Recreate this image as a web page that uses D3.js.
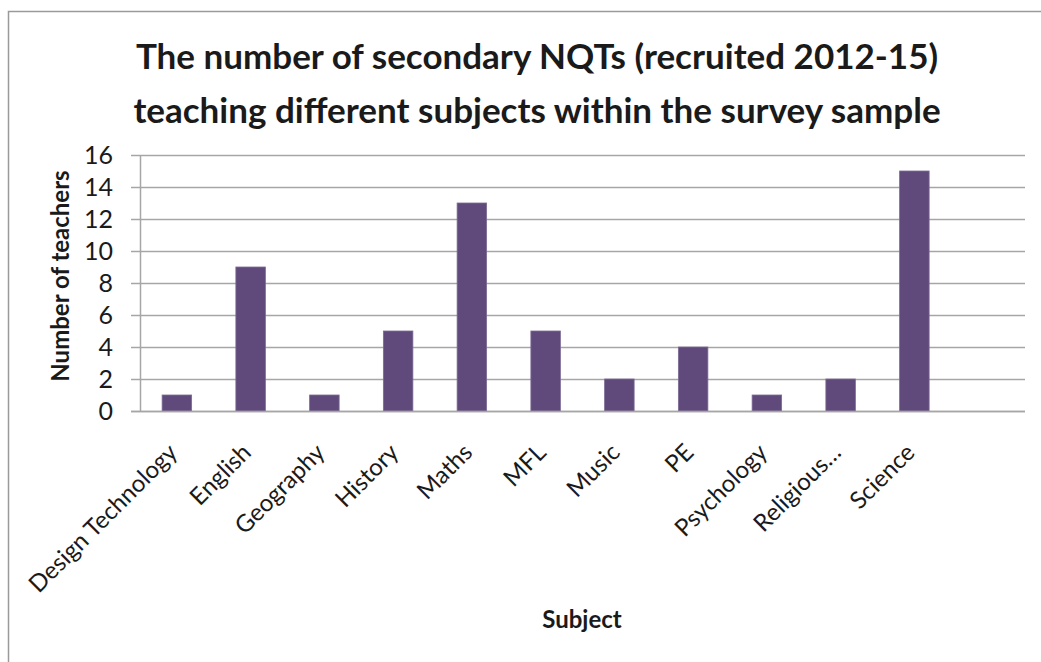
<!DOCTYPE html>
<html>
<head>
<meta charset="utf-8">
<script src="https://cdn.jsdelivr.net/npm/d3@7"></script>
<style>
  html, body { margin: 0; padding: 0; background: #fff; }
  svg { display: block; }
  text { font-family: Lato, "Open Sans", sans-serif; fill: #1a1a1a; }
</style>
</head>
<body>
<svg id="chart" width="1041" height="662"></svg>
<script>
const categories = ["Design Technology", "English", "Geography", "History", "Maths", "MFL", "Music", "PE", "Psychology", "Religious…", "Science", ""];
const values = [1, 9, 1, 5, 13, 5, 2, 4, 1, 2, 15, null];
const yTicks = [0, 2, 4, 6, 8, 10, 12, 14, 16];
const titleLines = ["The number of secondary NQTs (recruited 2012-15)", "teaching different subjects within the survey sample"];
const yTitle = "Number of teachers";
const xTitle = "Subject";

const svg = d3.select("#chart");
const W = 1041, H = 662;
const plot = { left: 140, right: 1025, top: 155, bottom: 411 };

svg.append("rect").attr("x", 8.5).attr("y", 11.5).attr("width", W + 20).attr("height", H + 20)
  .attr("fill", "#fff").attr("stroke", "#9a9a9a").attr("stroke-width", 1.5);

const xb = d3.scaleBand().domain(categories.map((c, i) => i)).range([plot.left, plot.right]);
const y = d3.scaleLinear().domain([0, 16]).range([plot.bottom, plot.top]);

// gridlines
svg.append("g").selectAll("line").data(yTicks).join("line")
  .attr("x1", plot.left - 9).attr("x2", plot.right)
  .attr("y1", d => Math.round(y(d)) + 0.5).attr("y2", d => Math.round(y(d)) + 0.5)
  .attr("stroke", "#a6a6a6").attr("stroke-width", 1.5);

// y axis line
svg.append("line").attr("x1", plot.left + 0.5).attr("x2", plot.left + 0.5)
  .attr("y1", plot.top).attr("y2", plot.bottom + 1)
  .attr("stroke", "#a6a6a6").attr("stroke-width", 1.5);

// y tick labels
svg.append("g").selectAll("text").data(yTicks).join("text")
  .attr("x", 113).attr("y", d => y(d)).attr("dy", "0.36em")
  .attr("text-anchor", "end").style("font-size", "25px")
  .text(d => d);

// bars
const bw = xb.bandwidth() / 2.5;
svg.append("g").selectAll("rect").data(values.map((v, i) => ({ v, i })).filter(d => d.v != null)).join("rect")
  .attr("x", d => xb(d.i) + xb.bandwidth() / 2 - bw / 2)
  .attr("width", bw)
  .attr("y", d => y(d.v))
  .attr("height", d => y(0) - y(d.v))
  .attr("fill", "#604a7b")
  .attr("stroke", "#7d6a95").attr("stroke-width", 0.8);

// x axis line on top
svg.append("line").attr("x1", plot.left - 9).attr("x2", plot.right)
  .attr("y1", plot.bottom + 0.5).attr("y2", plot.bottom + 0.5)
  .attr("stroke", "#a6a6a6").attr("stroke-width", 1.5);

// category labels
svg.append("g").selectAll("text").data(categories.map((c, i) => ({ c, i }))).join("text")
  .attr("transform", d => `translate(${xb(d.i) + xb.bandwidth() / 2 - 4},${plot.bottom + 37}) rotate(-45)`)
  .attr("text-anchor", "end").attr("dy", "0.35em")
  .style("font-size", "24px")
  .text(d => d.c);

// title
svg.append("g").selectAll("text").data(titleLines).join("text")
  .attr("x", 537).attr("y", (d, i) => 69 + i * 54)
  .attr("text-anchor", "middle").style("font-size", "35px").style("font-weight", "bold")
  .text(d => d);

// y title
svg.append("text").attr("transform", "translate(69,276) rotate(-90)")
  .attr("text-anchor", "middle").style("font-size", "24px").style("font-weight", "bold")
  .text(yTitle);

// x title
svg.append("text").attr("x", 582).attr("y", 628)
  .attr("text-anchor", "middle").style("font-size", "24px").style("font-weight", "bold")
  .text(xTitle);
</script>
</body>
</html>
